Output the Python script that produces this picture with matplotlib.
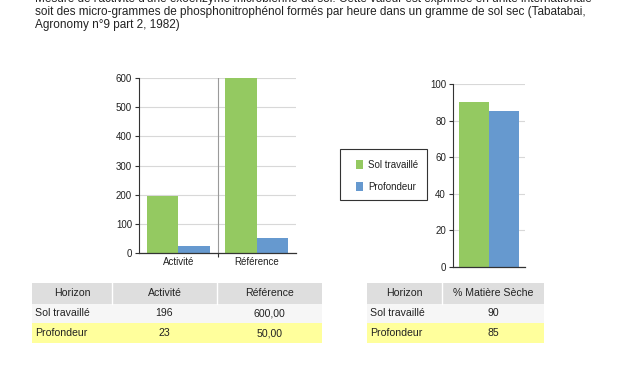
import matplotlib
matplotlib.use('Agg')
import matplotlib.pyplot as plt
from matplotlib.patches import Rectangle

plt.rcParams['font.family'] = ['Liberation Sans', 'DejaVu Sans']

# Data
intro_lines = [
    "Mesure de l'activité d'une exoenzyme microbienne du sol. Cette valeur est exprimée en unité internationale",
    "soit des micro-grammes de phosphonitrophénol formés par heure dans un gramme de sol sec (Tabatabai,",
    "Agronomy n°9 part 2, 1982)",
]
horizons = ['Sol travaillé', 'Profondeur']
categories = ['Activité', 'Référence']
sol_travaille = [196, 600]
profondeur = [23, 50]
matiere_seche = [90, 85]
act_labels = ['196', '23']
ref_labels = ['600,00', '50,00']
ms_labels = ['90', '85']

GREEN = '#94c961'
BLUE = '#6699cf'
GRID = '#d8d8d8'
AXC = '#333333'

W, H = 627, 376
fig = plt.figure(figsize=(W / 100, H / 100), dpi=100)


def px_axes(x0, y0, x1, y1):
    # pixel box (top-left origin) -> figure axes
    return fig.add_axes([x0 / W, 1 - y1 / H, (x1 - x0) / W, (y1 - y0) / H])


def style(ax):
    ax.set_axisbelow(True)
    ax.grid(axis='y', color=GRID, lw=0.8)
    for s in ('top', 'right'):
        ax.spines[s].set_visible(False)
    ax.spines['left'].set_color(AXC)
    ax.spines['bottom'].set_color(AXC)
    ax.spines['left'].set_linewidth(0.8)
    ax.spines['bottom'].set_linewidth(0.9)
    ax.tick_params(axis='y', length=3, width=0.8, color=AXC, labelsize=7, pad=2, labelcolor='#222')


# Left chart: activité / référence
ax1 = px_axes(139, 78, 296, 253)
bw = 0.4
x = range(len(categories))
ax1.bar([i - bw / 2 for i in x], sol_travaille, width=bw, color=GREEN)
ax1.bar([i + bw / 2 for i in x], profondeur, width=bw, color=BLUE)
ax1.set_xlim(-0.5, 1.5)
ax1.set_ylim(0, 600)
ax1.set_yticks(range(0, 601, 100))
ax1.set_xticks(list(x))
ax1.set_xticklabels(categories)
ax1.set_xticks([0.5], minor=True)
ax1.tick_params(axis='x', which='major', length=0, labelsize=7, pad=3, labelcolor='#222')
ax1.tick_params(axis='x', which='minor', length=3, width=0.8, color=AXC)
ax1.axvline(0.5, color='#9a9a9a', lw=0.8)
style(ax1)

# Right chart: % matière sèche
ax2 = px_axes(453, 84, 525, 267)
bw2 = 0.41
ax2.bar([-bw2 / 2], [matiere_seche[0]], width=bw2, color=GREEN)
ax2.bar([bw2 / 2], [matiere_seche[1]], width=bw2, color=BLUE)
ax2.set_xlim(-0.5, 0.5)
ax2.set_ylim(0, 100)
ax2.set_yticks(range(0, 101, 20))
ax2.set_xticks([])
style(ax2)

# Overlay for text, legend and tables (pixel coordinates)
ov = fig.add_axes([0, 0, 1, 1], zorder=-1)
ov.set_xlim(0, W)
ov.set_ylim(H, 0)
ov.axis('off')

# first line is cut by the top edge, as in the source screenshot
for i, line in enumerate(intro_lines):
    ov.text(35, -1 + 13 * i, line, fontsize=8.45, color='#222', va='center', ha='left')

# Legend
ov.add_patch(Rectangle((340, 149), 87, 51, fill=False, ec='#333', lw=0.8))
for yy, col, lab in [(164.5, GREEN, horizons[0]), (186.5, BLUE, horizons[1])]:
    ov.add_patch(Rectangle((356, yy - 4.5), 7, 9, color=col, lw=0))
    ov.text(368, yy, lab, fontsize=7, color='#222', va='center', ha='left')

# Tables
HDR = '#dedede'
ROW1 = '#f6f6f6'
ROW2 = '#ffff9c'
ROWY = [(283, 304), (304, 323), (323, 343)]


def draw_table(cols, header, rows):
    # cols: list of column edges in pixels
    for j in range(len(cols) - 1):
        x0, x1 = cols[j], cols[j + 1]
        y0, y1 = ROWY[0]
        ov.add_patch(Rectangle((x0, y0), x1 - x0, y1 - y0, color=HDR, lw=0))
        ov.text((x0 + x1) / 2, (y0 + y1) / 2, header[j], fontsize=7.6, color='#222',
                ha='center', va='center')
        if j > 0:
            ov.plot([x0, x0], [y0, y1], color='white', lw=1)
    for r, (vals, bg) in enumerate(zip(rows, [ROW1, ROW2])):
        y0, y1 = ROWY[r + 1]
        ov.add_patch(Rectangle((cols[0], y0), cols[-1] - cols[0], y1 - y0, color=bg, lw=0))
        for j, v in enumerate(vals):
            if j == 0:
                ov.text(cols[0] + 3, (y0 + y1) / 2, v, fontsize=7.6, color='#222',
                        ha='left', va='center')
            else:
                ov.text((cols[j] + cols[j + 1]) / 2, (y0 + y1) / 2, v, fontsize=7.6,
                        color='#222', ha='center', va='center')


draw_table([32, 112, 217, 322], ['Horizon', 'Activité', 'Référence'],
           [[h, a, r] for h, a, r in zip(horizons, act_labels, ref_labels)])
draw_table([367, 442, 544], ['Horizon', '% Matière Sèche'],
           [[h, m] for h, m in zip(horizons, ms_labels)])

fig.savefig('out.png', dpi=100)
